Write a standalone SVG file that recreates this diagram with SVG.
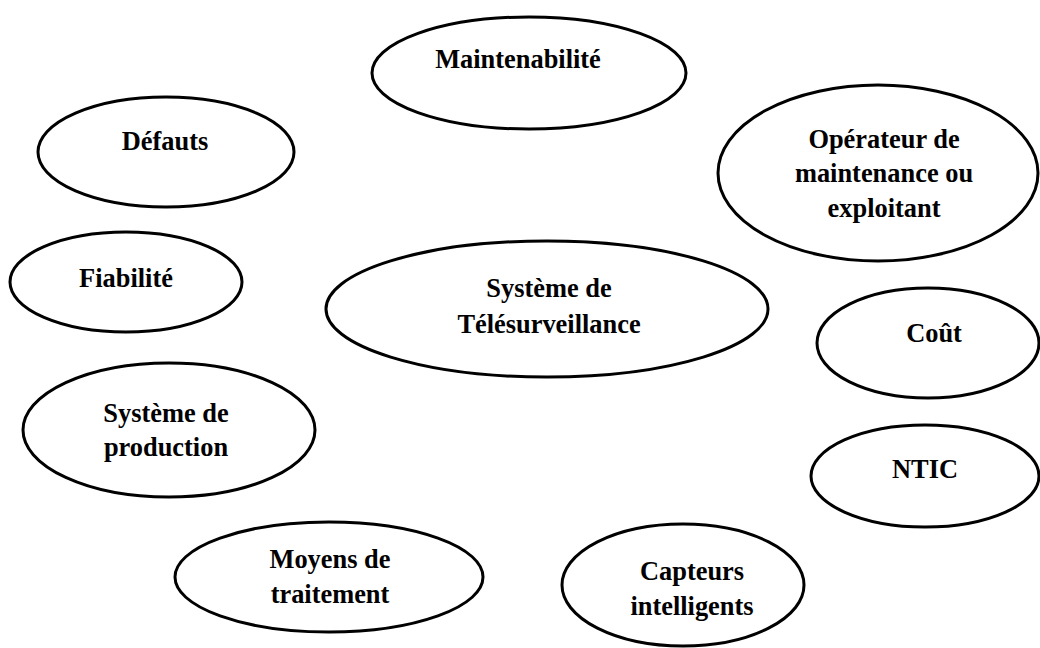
<svg xmlns="http://www.w3.org/2000/svg" width="1040" height="648" viewBox="0 0 1040 648">
<style>
.n ellipse{fill:#fff;stroke:#000;stroke-width:3}
.n text{font-family:"Liberation Serif","Times New Roman",serif;font-weight:bold;font-size:26.4px;fill:#000;text-anchor:middle}
</style>
<rect width="1040" height="648" fill="#fff"/>
<g id="connectors"/>
<g id="maintenabilite" class="n"><ellipse cx="529" cy="73" rx="157" ry="56"/><text x="518" y="68">Maintenabilité</text></g>
<g id="defauts" class="n"><ellipse cx="166" cy="152" rx="128" ry="55"/><text x="165" y="150">Défauts</text></g>
<g id="operateur" class="n"><ellipse cx="878" cy="173" rx="160" ry="88"/><text x="884" y="148">Opérateur de</text><text x="884" y="182">maintenance ou</text><text x="884" y="217">exploitant</text></g>
<g id="fiabilite" class="n"><ellipse cx="126" cy="282" rx="116" ry="50"/><text x="126" y="287">Fiabilité</text></g>
<g id="telesurveillance" class="n"><ellipse cx="547" cy="309" rx="221" ry="68"/><text x="549" y="297">Système de</text><text x="549" y="333">Télésurveillance</text></g>
<g id="cout" class="n"><ellipse cx="928" cy="343" rx="111" ry="55"/><text x="934" y="342">Coût</text></g>
<g id="production" class="n"><ellipse cx="169" cy="430" rx="146" ry="67"/><text x="166" y="422">Système de</text><text x="166" y="456">production</text></g>
<g id="ntic" class="n"><ellipse cx="925" cy="476" rx="114" ry="51"/><text x="925" y="478">NTIC</text></g>
<g id="moyens" class="n"><ellipse cx="329" cy="577" rx="154" ry="55"/><text x="330" y="568">Moyens de</text><text x="330" y="603">traitement</text></g>
<g id="capteurs" class="n"><ellipse cx="683" cy="585" rx="121" ry="61"/><text x="692" y="580">Capteurs</text><text x="692" y="615">intelligents</text></g>
</svg>
